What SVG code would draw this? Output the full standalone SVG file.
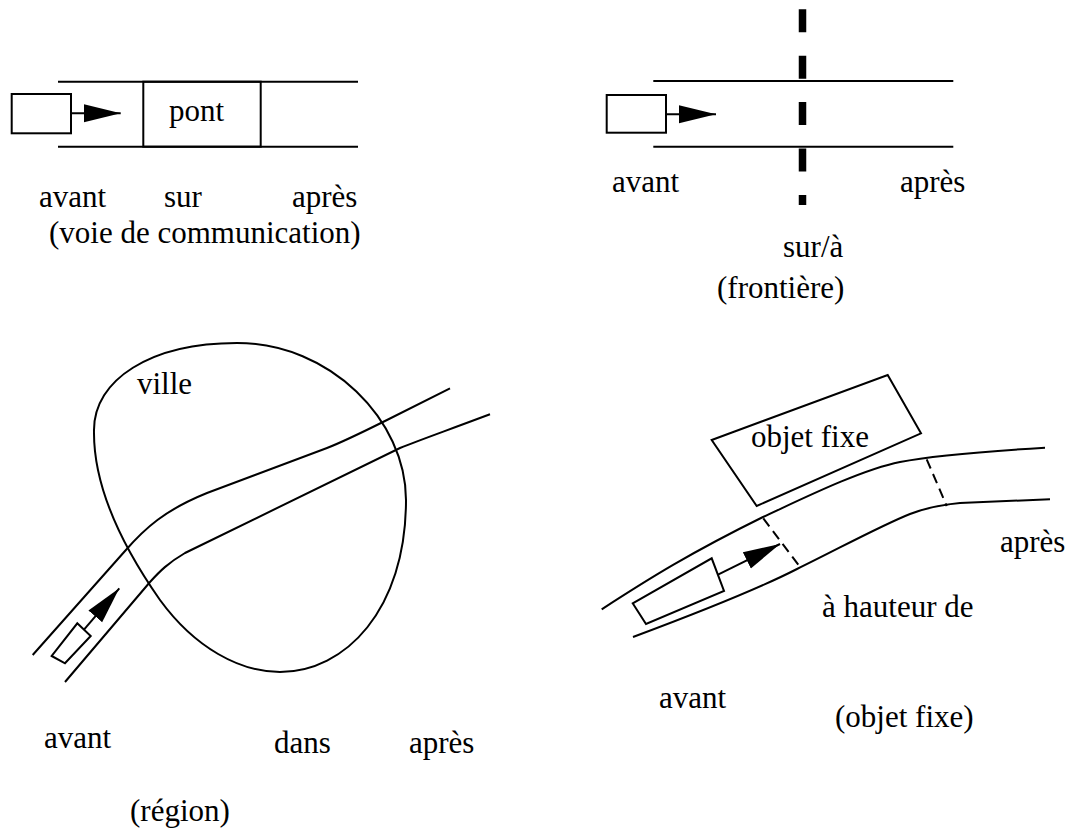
<svg xmlns="http://www.w3.org/2000/svg" width="1067" height="829" viewBox="0 0 1067 829">
<style>
.ln{fill:none;stroke:#000;stroke-width:2}
.box{fill:#fff;stroke:#000;stroke-width:2}
.dash{fill:none;stroke:#000;stroke-width:2;stroke-dasharray:10 6}
.arr{fill:none;stroke:#000;stroke-width:2;marker-end:url(#ah)}
text{font-family:"Liberation Serif","Times New Roman",serif;font-size:31px;fill:#000}
</style>
<defs>
<marker id="ah" markerWidth="37" markerHeight="20" refX="37" refY="10" orient="auto" markerUnits="userSpaceOnUse">
<path d="M0,1 L37,10 L0,19 z" fill="#000"/>
</marker>
</defs>
<rect width="1067" height="829" fill="#fff"/>

<!-- Panel 1: voie de communication -->
<g id="road1">
<line class="ln" x1="58" y1="81.7" x2="358" y2="81.7"/>
<line class="ln" x1="58" y1="146.7" x2="358" y2="146.7"/>
</g>
<g id="pont">
<rect class="ln" x="143.3" y="81.7" width="117.4" height="65"/>
<text x="169" y="121">pont</text>
</g>
<g id="vehicle1">
<rect class="box" x="11.7" y="94" width="59.3" height="39.3"/>
</g>
<g id="labels1">
<text x="39" y="206.7">avant</text>
<text x="164" y="206.7">sur</text>
<text x="292" y="206.7">après</text>
<text x="49" y="243">(voie de communication)</text>
</g>

<!-- Panel 2: frontière -->
<g id="road2">
<line class="ln" x1="653.3" y1="81" x2="953.3" y2="81"/>
<line class="ln" x1="653.3" y1="146.7" x2="953.3" y2="146.7"/>
</g>
<g id="frontiere">
<line x1="802.5" y1="9.3" x2="802.5" y2="205" stroke="#000" stroke-width="7.5" stroke-dasharray="23 23.4"/>
</g>
<g id="vehicle2">
<rect class="box" x="606.7" y="95" width="59.3" height="37.7"/>
</g>
<g id="labels2">
<text x="612" y="191.7">avant</text>
<text x="900" y="191.7">après</text>
<text x="783" y="256.7">sur/à</text>
<text x="717" y="298.3">(frontière)</text>
</g>

<!-- Panel 3: région -->
<g id="ville">
<path class="ln" d="M237,343 C150,343 94,380 94,430 C93,490 125,550 160,600 C195,648 240,672 280,672 C345,672 406,610 406,500 C406,420 330,343 237,343 Z"/>
<text x="137" y="394">ville</text>
</g>
<g id="road3">
<path class="ln" d="M32.7,655 L125,551 C145,528 165,510 207,493 L327,448 C345,441 365,431 387,420 L450,388.3"/>
<path class="ln" d="M65,682 L150,582 C160,571 168,563 185,553 L400,448 C420,440 440,433 490,414.3"/>
</g>
<g id="vehicle3">
<polygon class="box" points="51.7,656 65,663.3 90.7,636 77.3,623.3"/>
</g>
<g id="labels3">
<text x="44" y="748.3">avant</text>
<text x="274" y="753.3">dans</text>
<text x="409" y="753.3">après</text>
<text x="130" y="821">(région)</text>
</g>

<!-- Panel 4: objet fixe -->
<g id="objetfixe">
<polygon class="ln" points="711.7,440 887.7,375 921,433.3 756.7,506"/>
<text x="751" y="446.7">objet fixe</text>
</g>
<g id="road4">
<path class="ln" d="M601.7,609.3 C650,578 690,553 763,517 C800,500 860,470 900,462 C930,456 990,451 1045,447.7"/>
<path class="ln" d="M633,637 C700,612 760,588 797,569 C840,548 880,526 910,514 C925,508 940,505 960,503 L1050,499.3"/>
<line class="dash" x1="763.3" y1="518.3" x2="799.3" y2="566"/>
<line class="dash" x1="926.7" y1="459.3" x2="946.7" y2="506"/>
</g>
<g id="vehicle4">
<polygon class="box" points="632.7,603.3 646,624 724,591 711.7,558.3"/>
</g>
<g id="labels4">
<text x="1000" y="551.7">après</text>
<text x="822" y="616.7">à hauteur de</text>
<text x="659" y="708.3">avant</text>
<text x="835" y="727">(objet fixe)</text>
</g>

<g id="connectors">
<line class="arr" x1="71" y1="113.3" x2="120.7" y2="113.3"/>
<line class="arr" x1="666" y1="114.3" x2="716" y2="114.3"/>
<line class="arr" x1="84" y1="629.7" x2="119.3" y2="588.3"/>
<line class="arr" x1="718" y1="574.7" x2="780" y2="544"/>
</g>
</svg>
